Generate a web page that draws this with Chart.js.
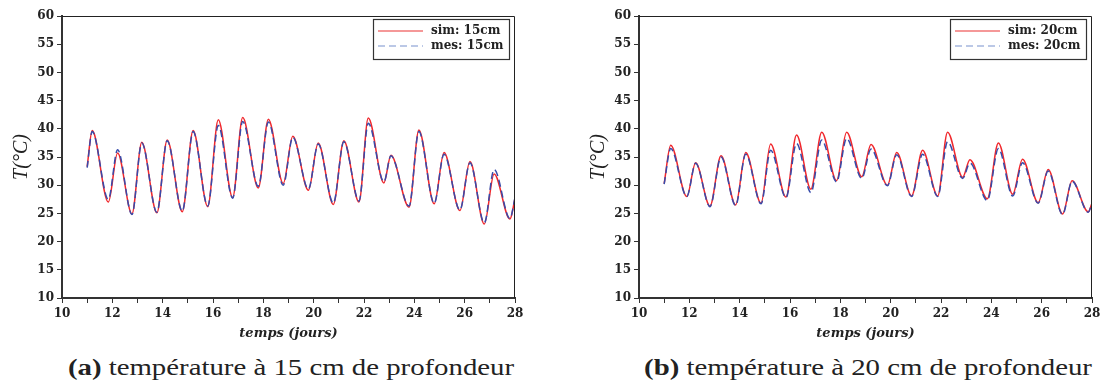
<!DOCTYPE html>
<html>
<head>
<meta charset="utf-8">
<script src="https://cdn.jsdelivr.net/npm/chart.js@4.4.0/dist/chart.umd.min.js"></script>
<style>
  body { margin: 0; background: #fff; }
  #wrap { position: relative; width: 1106px; height: 385px; overflow: hidden; }
  canvas { position: absolute; top: 0; }
  .cap { position: absolute; top: 354px; font-family: "Liberation Serif", serif; font-size: 24px;
         color: #222; white-space: nowrap; transform: translateX(-50%) scaleX(1.2); }
  .cap b { font-weight: bold; }
</style>
</head>
<body>
<div id="wrap">
  <canvas id="c15" width="553" height="345" style="left:0px"></canvas>
  <canvas id="c20" width="553" height="345" style="left:577px"></canvas>
  <div class="cap" style="left:291px"><b>(a)</b> température à 15 cm de profondeur</div>
  <div class="cap" style="left:868px"><b>(b)</b> température à 20 cm de profondeur</div>
</div>
<script>
// 15 cm depth: times of peaks / troughs (days) and temperatures (°C)
var days15 = [11.0, 11.2, 11.84, 12.21, 12.78, 13.17, 13.77, 14.18, 14.78, 15.21, 15.79, 16.21, 16.78, 17.18,
  17.8, 18.2, 18.79, 19.17, 19.79, 20.18, 20.78, 21.2, 21.8, 22.17, 22.79, 23.07, 23.79, 24.18, 24.79, 25.18,
  25.81, 26.21, 26.78, 27.17, 27.8, 28.0];
var sim15 = [33.3, 39.7, 27.0, 35.7, 24.9, 37.6, 25.1, 38.0, 25.3, 39.7, 26.2, 41.6, 27.8, 42.0,
  29.5, 41.7, 30.3, 38.7, 29.1, 37.5, 26.6, 37.9, 27.0, 41.9, 30.4, 35.3, 26.1, 39.8, 26.7, 35.8,
  25.5, 34.2, 23.1, 32.0, 24.0, 27.6];
var mes15 = [33.1, 39.5, 27.5, 36.3, 24.8, 37.5, 25.2, 37.9, 25.4, 39.5, 26.3, 40.6, 27.7, 41.3,
  29.8, 41.2, 30.0, 38.5, 29.3, 37.3, 26.8, 37.7, 27.2, 41.0, 30.6, 35.2, 26.3, 39.5, 26.8, 35.5,
  25.6, 34.0, 23.3, 32.8, 24.1, 27.8];

// 20 cm depth
var days20 = [11.0, 11.26, 11.9, 12.25, 12.82, 13.26, 13.84, 14.24, 14.85, 15.23, 15.84, 16.26, 16.83, 17.26,
  17.85, 18.25, 18.85, 19.22, 19.87, 20.24, 20.83, 21.27, 21.87, 22.26, 22.86, 23.15, 23.84, 24.28, 24.85, 25.24,
  25.86, 26.26, 26.83, 27.21, 27.85, 28.0];
var sim20 = [30.3, 37.1, 28.0, 34.0, 26.3, 35.2, 26.5, 35.8, 26.8, 37.3, 27.9, 38.9, 29.3, 39.4,
  30.8, 39.4, 31.5, 37.2, 30.0, 35.8, 28.1, 36.2, 28.1, 39.4, 31.4, 34.5, 27.6, 37.5, 28.4, 34.6,
  26.9, 32.8, 24.9, 30.8, 25.3, 26.8];
var mes20 = [30.2, 36.5, 28.0, 33.9, 26.2, 35.0, 26.4, 35.5, 26.7, 36.2, 27.8, 37.4, 28.7, 38.0,
  30.6, 38.3, 31.2, 36.4, 29.9, 35.4, 28.0, 35.5, 28.0, 37.7, 31.2, 33.9, 27.3, 36.5, 28.1, 34.0,
  26.8, 32.5, 24.8, 30.7, 25.2, 26.8];

var xTicks = [10, 12, 14, 16, 18, 20, 22, 24, 26, 28];
var yTicks = [10, 15, 20, 25, 30, 35, 40, 45, 50, 55, 60];

var tickFont = { family: 'DejaVu Serif', weight: 'bold', size: 12 };

var framePlugin = {
  id: 'frame',
  afterDraw: function (chart) {
    var a = chart.chartArea, c = chart.ctx;
    c.save();
    c.strokeStyle = '#222';
    c.lineWidth = 1;
    c.beginPath();
    c.moveTo(a.left, a.top + 0.5);
    c.lineTo(a.right - 0.5, a.top + 0.5);
    c.lineTo(a.right - 0.5, a.bottom);
    c.stroke();
    // legend box
    var ds = chart.data.datasets;
    var w = 136, h = 40, x = a.right - 6 - w, y = a.top + 3;
    c.fillStyle = '#fff';
    c.fillRect(x, y, w, h);
    c.strokeStyle = '#333';
    c.lineWidth = 1.2;
    c.strokeRect(x + 0.5, y + 0.5, w, h);
    c.font = 'bold 12px "DejaVu Serif"';
    c.textBaseline = 'middle';
    for (var i = 0; i < ds.length; i++) {
      var ly = y + 12 + i * 15;
      c.beginPath();
      c.strokeStyle = ds[i].legendColor;
      c.lineWidth = 1.2;
      c.setLineDash(ds[i].borderDash || []);
      c.moveTo(x + 5, ly);
      c.lineTo(x + 50, ly);
      c.stroke();
      c.setLineDash([]);
      c.fillStyle = '#222';
      c.fillText(ds[i].label, x + 58, ly);
    }
    c.restore();
  }
};

function makeChart(id, days, sim, mes, depth) {
  var ptsSim = days.map(function (d, i) { return { x: d, y: sim[i] }; });
  var ptsMes = days.map(function (d, i) { return { x: d, y: mes[i] }; });
  return new Chart(document.getElementById(id).getContext('2d'), {
    type: 'line',
    data: {
      datasets: [{
        label: 'sim: ' + depth,
        data: ptsSim,
        borderColor: 'rgb(240, 40, 45)',
        legendColor: 'rgb(235, 50, 50)',
        borderWidth: 1.5,
        pointRadius: 0,
        cubicInterpolationMode: 'monotone',
        order: 1
      }, {
        label: 'mes: ' + depth,
        data: ptsMes,
        borderColor: 'rgb(55, 75, 170)',
        legendColor: 'rgb(120, 145, 205)',
        borderWidth: 1.5,
        borderDash: [7, 4],
        pointRadius: 0,
        cubicInterpolationMode: 'monotone',
        order: 0
      }]
    },
    options: {
      responsive: false,
      animation: false,
      layout: { padding: { left: 0, right: 38, top: 16, bottom: 0 } },
      plugins: { legend: { display: false }, tooltip: { enabled: false } },
      scales: {
        x: {
          type: 'linear',
          min: 10, max: 28,
          afterFit: function (s) { s.height = 47; },
          afterBuildTicks: function (s) {
            var t = [];
            for (var v = 10; v <= 28; v++) t.push({ value: v });
            s.ticks = t;
          },
          ticks: {
            color: '#222', font: tickFont, padding: 4, maxRotation: 0, autoSkip: false,
            callback: function (v) { return xTicks.indexOf(v) >= 0 ? String(v) : ''; }
          },
          grid: { drawOnChartArea: false, tickLength: 5, color: '#333', lineWidth: 1 },
          border: { display: true, color: '#333', width: 2 },
          title: {
            display: true, text: 'temps (jours)', color: '#222',
            font: { family: 'DejaVu Serif', weight: 'bold', style: 'italic', size: 13 },
            padding: { top: 0, bottom: 4 }
          }
        },
        y: {
          min: 10, max: 60,
          afterFit: function (s) { s.width = 62; },
          afterBuildTicks: function (s) { s.ticks = yTicks.map(function (v) { return { value: v }; }); },
          ticks: { color: '#222', font: tickFont, padding: 3 },
          grid: { drawOnChartArea: false, tickLength: 5, color: '#333', lineWidth: 1 },
          border: { display: true, color: '#333', width: 2 },
          title: {
            display: true, text: 'T(°C)', color: '#222',
            font: { family: 'Liberation Serif', style: 'italic', size: 20 },
            padding: { top: 10, bottom: 0 }
          }
        }
      }
    },
    plugins: [framePlugin]
  });
}

makeChart('c15', days15, sim15, mes15, '15cm');
makeChart('c20', days20, sim20, mes20, '20cm');
</script>
</body>
</html>
